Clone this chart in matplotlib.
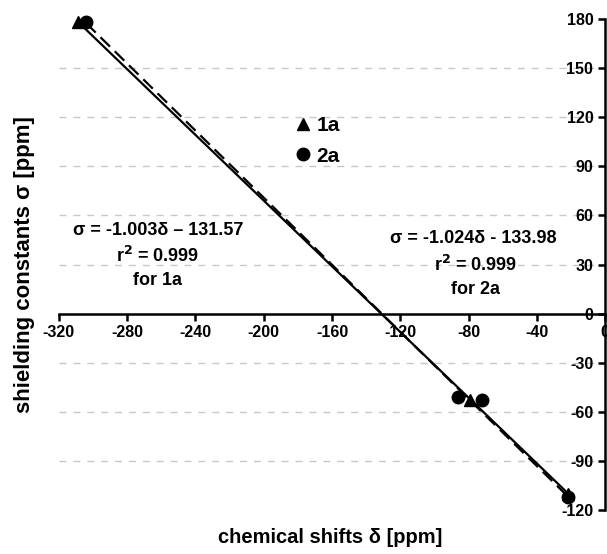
import numpy as np
import matplotlib
matplotlib.use("Agg")
import matplotlib.pyplot as plt

plt.rcParams["font.family"] = ["Liberation Sans", "DejaVu Sans"]
plt.rcParams["font.weight"] = "bold"
plt.rcParams["axes.unicode_minus"] = False

# ── Données ───────────────────────────────────────────────────────────────────
delta_1a = [-309, -79, -22]
sigma_1a = [178, -53, -110]
delta_2a = [-304, -86, -72, -22]
sigma_2a = [178, -51, -53, -112]

fit_1a = (-1.003, -131.57)
fit_2a = (-1.024, -133.98)

x_ticks = [-320, -280, -240, -200, -160, -120, -80, -40, 0]
y_ticks = [-120, -90, -60, -30, 0, 30, 60, 90, 120, 150, 180]
grid_y = [-90, -60, -30, 30, 60, 90, 120, 150]

# ── Figure ────────────────────────────────────────────────────────────────────
fig = plt.figure(figsize=(6.07, 5.54), dpi=100)
ax = fig.add_axes([0.097, 0.079, 0.900, 0.887])
ax.set_xlim(-320, 0)
ax.set_ylim(-120, 180)

for g in grid_y:
    ax.axhline(g, color="#c8c8c8", ls=(0, (5, 5)), lw=1, zorder=0)

xl = np.array([min(delta_1a), max(delta_1a)])
ax.plot(xl, fit_1a[0] * xl + fit_1a[1], color="black", lw=1.6, zorder=2)
xl = np.array([min(delta_2a), max(delta_2a)])
ax.plot(xl, fit_2a[0] * xl + fit_2a[1], color="black", lw=1.6,
        ls=(0, (6, 3)), zorder=2)

ax.plot(delta_1a, sigma_1a, "^", color="black", ms=9, ls="none",
        label="1a", zorder=3, clip_on=False)
ax.plot(delta_2a, sigma_2a, "o", color="black", ms=9, ls="none",
        label="2a", zorder=3, clip_on=False)

# axes croisés
ax.spines["left"].set_position(("data", 0))
ax.spines["bottom"].set_position(("data", 0))
ax.spines["right"].set_visible(False)
ax.spines["top"].set_visible(False)
ax.spines["left"].set_linewidth(1.8)
ax.spines["bottom"].set_linewidth(1.8)
ax.set_xticks(x_ticks)
ax.set_yticks(y_ticks)
ax.tick_params(axis="both", direction="out", length=5, width=1.8,
               labelsize=11.5)
for lab in ax.get_xticklabels() + ax.get_yticklabels():
    lab.set_fontweight("bold")

ax.set_ylabel("shielding constants σ [ppm]", fontsize=16, fontweight="bold")
ax.yaxis.set_label_coords(-0.044, 0.5)
ax.set_xlabel("chemical shifts δ [ppm]", fontsize=14.5, fontweight="bold")
ax.xaxis.set_label_coords(0.496, -0.036)

ax.legend(loc="upper left", bbox_to_anchor=(0.393, 0.84), frameon=False,
          handletextpad=0.15, labelspacing=0.55, handlelength=1.0,
          prop={"weight": "bold", "size": 15})

fs = 13
ax.text(-262, 51, "σ = -1.003δ – 131.57", ha="center", va="center",
        fontsize=fs, fontweight="bold")
ax.text(-262, 35.5, "r$^\\mathbf{2}$ = 0.999", ha="center", va="center",
        fontsize=fs, fontweight="bold")
ax.text(-262, 20, "for 1a", ha="center", va="center",
        fontsize=fs, fontweight="bold")

ax.text(-77, 46, "σ = -1.024δ - 133.98", ha="center", va="center",
        fontsize=fs, fontweight="bold")
ax.text(-76, 30, "r$^\\mathbf{2}$ = 0.999", ha="center", va="center",
        fontsize=fs, fontweight="bold")
ax.text(-76, 15, "for 2a", ha="center", va="center",
        fontsize=fs, fontweight="bold")

plt.savefig("out.png", dpi=100)
